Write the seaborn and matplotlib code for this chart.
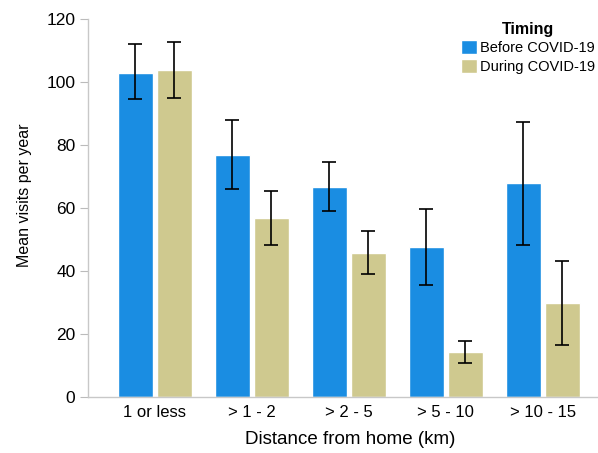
import numpy as np
import pandas as pd
import matplotlib
matplotlib.use("Agg")
import matplotlib.pyplot as plt
import seaborn as sns

# values
distances = ["1 or less", "> 1 - 2", "> 2 - 5", "> 5 - 10", "> 10 - 15"]
timings = ["Before COVID-19", "During COVID-19"]
before_mean = [103.0, 76.8, 66.8, 47.6, 67.8]
before_low = [94.5, 66.0, 59.0, 35.6, 48.3]
before_high = [112.0, 87.8, 74.5, 59.7, 87.3]
during_mean = [103.7, 56.8, 45.7, 14.3, 29.8]
during_low = [94.9, 48.3, 39.0, 10.9, 16.6]
during_high = [112.7, 65.4, 52.7, 17.8, 43.2]

colors = ["#1a8de2", "#cfc98f"]

df = pd.DataFrame({
    "distance": distances * 2,
    "timing": [timings[0]] * 5 + [timings[1]] * 5,
    "mean": before_mean + during_mean,
    "low": before_low + during_low,
    "high": before_high + during_high,
})

sns.set_style("white")
plt.rcParams["font.family"] = ["Liberation Sans", "DejaVu Sans"]
plt.rcParams["text.color"] = "black"
plt.rcParams["axes.labelcolor"] = "black"
plt.rcParams["xtick.color"] = "black"
plt.rcParams["ytick.color"] = "black"

fig = plt.figure(figsize=(5.98, 4.53), dpi=100)
ax = fig.add_axes([0.147, 0.124, 0.853, 0.834])

sns.barplot(data=df, x="distance", y="mean", hue="timing", order=distances,
            hue_order=timings, palette=colors, width=0.8, gap=0.1,
            errorbar=None, saturation=1, ax=ax)

# error bars at the bar centres
for container, t in zip(ax.containers, timings):
    sub = df[df["timing"] == t].set_index("distance").loc[distances]
    xs = [p.get_x() + p.get_width() / 2 for p in container.patches]
    yerr = np.vstack([sub["mean"] - sub["low"], sub["high"] - sub["mean"]])
    ax.errorbar(xs, sub["mean"], yerr=yerr, fmt="none", ecolor="black",
                elinewidth=1.2, capsize=5, capthick=1.2)

ax.set_ylim(0, 120)
ax.set_xlim(-0.69, 4.57)
ax.set_yticks([0, 20, 40, 60, 80, 100, 120])
ax.set_xlabel("Distance from home (km)", fontsize=13.5)
ax.xaxis.set_label_coords(0.514, -0.09)
ax.set_ylabel("Mean visits per year", fontsize=11.5)
ax.yaxis.set_label_coords(-0.11, 0.534)
ax.tick_params(axis="y", length=6, width=0.8, color="#bbbbbb", labelsize=12.5,
               labelcolor="black", pad=3, left=True)
ax.tick_params(axis="x", length=0, labelsize=12, labelcolor="black", pad=6)

for side in ["top", "right"]:
    ax.spines[side].set_visible(False)
for side in ["left", "bottom"]:
    ax.spines[side].set_color("#c8c8c8")
    ax.spines[side].set_linewidth(1.0)

leg = ax.legend(title="Timing", loc="upper right", bbox_to_anchor=(1.012, 1.016),
                frameon=False, fontsize=10.5, title_fontsize=11.5,
                handlelength=1.1, handleheight=1.1, handletextpad=0.25,
                labelspacing=0.25, borderaxespad=0.2)
leg.get_title().set_fontweight("bold")

fig.savefig("out.png", dpi=100)
